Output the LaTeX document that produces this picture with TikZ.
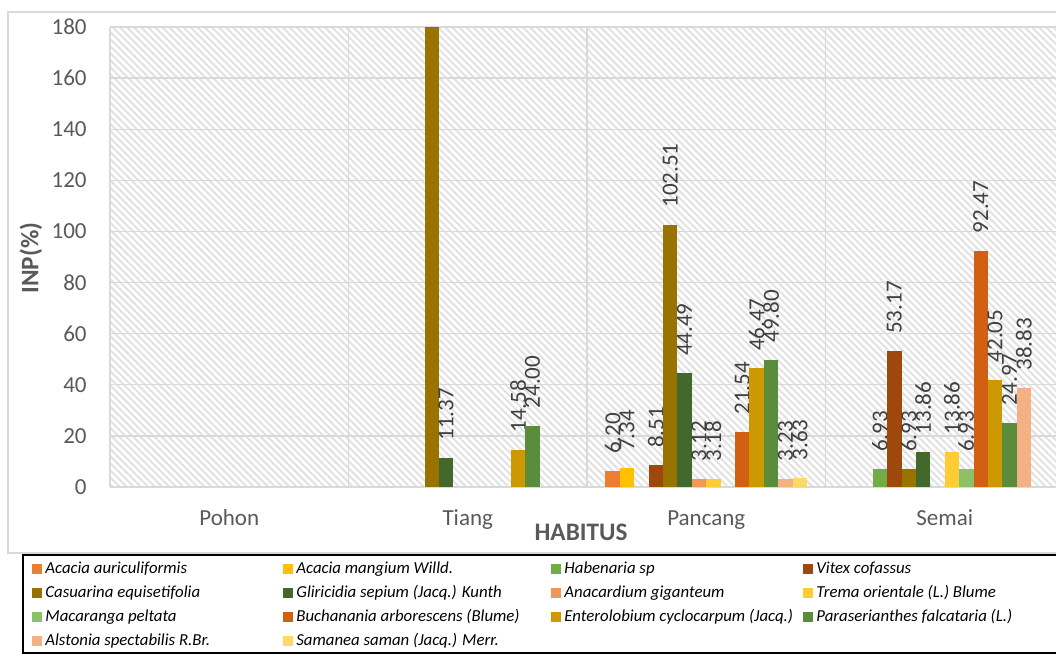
\documentclass[tikz,border=0pt]{standalone}
\usepackage{fontspec}
\setmainfont{Carlito}
\usetikzlibrary{patterns.meta}

\definecolor{gridgray}{HTML}{D9D9D9}
\definecolor{axistext}{HTML}{595959}
\definecolor{labeltext}{HTML}{404040}
\definecolor{s1}{HTML}{ED7D31}
\definecolor{s2}{HTML}{FFC000}
\definecolor{s3}{HTML}{70AD47}
\definecolor{s4}{HTML}{9E480E}
\definecolor{s5}{HTML}{997300}
\definecolor{s6}{HTML}{43682B}
\definecolor{s7}{HTML}{F1975A}
\definecolor{s8}{HTML}{FFCD33}
\definecolor{s9}{HTML}{8CC168}
\definecolor{s10}{HTML}{D26012}
\definecolor{s11}{HTML}{CC9A00}
\definecolor{s12}{HTML}{5B8C3C}
\definecolor{s13}{HTML}{F4B183}
\definecolor{s14}{HTML}{FFD966}

\begin{document}
\begin{tikzpicture}[x=0.5pt, y=-0.5pt,
    gridline/.style={draw=gridgray, line width=0.7pt},
    ticklabel/.style={text=axistext, font=\fontsize{11.5}{13}\selectfont, anchor=east, inner sep=0pt},
    catlabel/.style={text=axistext, font=\fontsize{11.5}{13}\selectfont, anchor=base, inner sep=0pt},
    axistitle/.style={text=axistext, font=\bfseries\fontsize{12.6}{14}\selectfont, inner sep=0pt},
    vallabel/.style={text=labeltext, font=\fontsize{11.5}{13}\selectfont, rotate=90, anchor=west, inner sep=0pt},
    legtext/.style={font=\itshape\fontsize{8.4}{10}\selectfont, anchor=base west, inner sep=0pt},
    legkey/.style={minimum size=5pt, inner sep=0pt, anchor=south west}]

    \useasboundingbox (0,0) rectangle (1056,657);
    \begin{scope}
    \clip (0,0) rectangle (1056,657);

    % Define chart area
    \draw[gridline] (8,12) rectangle (1070,553);
    \fill[pattern={Lines[angle=-45, distance=2.5pt, line width=1pt]}, pattern color=gridgray!80]
        (110,27) rectangle (1064,487);

    % Define grid and ticks
    \foreach \t in {0,20,...,180} {
        \draw[gridline] (110,{487-\t/180*460}) -- (1064,{487-\t/180*460});
        \node[ticklabel] (tick\t) at (87,{487-\t/180*460}) {\t};
    }
    \foreach \i in {0,...,4}
        \draw[gridline] ({110+\i*238.5},27) -- ({110+\i*238.5},487);

    % Define categories
    \foreach \name [count=\i from 0] in {Pohon,Tiang,Pancang,Semai}
        \node[catlabel] (cat\i) at ({110+(\i+0.5)*238.5},526) {\name};
    \node[axistitle, anchor=base] (habitus) at (581,541) {HABITUS};
    \node[axistitle, rotate=90] (inp) at (31,258) {INP(\%)};

    % Define bars
    \fill[s5] ({110+238.5+18.4+4*14.4},27) rectangle ++(14.4,460);
    \foreach \c/\s/\v in {1/6/11.37, 1/11/14.58, 1/12/24.00,
        2/1/6.20, 2/2/7.34, 2/4/8.51, 2/5/102.51, 2/6/44.49, 2/7/3.12, 2/8/3.18,
        2/10/21.54, 2/11/46.47, 2/12/49.80, 2/13/3.23, 2/14/3.63,
        3/3/6.93, 3/4/53.17, 3/5/6.93, 3/6/13.86, 3/8/13.86, 3/9/6.93,
        3/10/92.47, 3/11/42.05, 3/12/24.97, 3/13/38.83} {
        \pgfmathsetmacro\bx{110+\c*238.5+18.4+(\s-1)*14.4}
        \pgfmathsetmacro\bh{\v/180*460}
        \pgfmathsetmacro\by{487-\bh}
        \fill[s\s] (\bx,\by) rectangle ++(14.4,\bh);
        \node[vallabel] (val\c-\s) at (\bx+7.2,\by-17) {\v};
    }
    \end{scope}

    % Define legend
    \draw[black, line width=1.2pt] (23,555) rectangle (1070,653);
    \foreach \s/\col/\row/\name in {1/0/0/Acacia auriculiformis, 2/1/0/Acacia mangium Willd.,
        3/2/0/Habenaria sp, 4/3/0/Vitex cofassus,
        5/0/1/Casuarina equisetifolia, 6/1/1/Gliricidia sepium (Jacq.) Kunth,
        7/2/1/Anacardium giganteum, 8/3/1/Trema orientale (L.) Blume,
        9/0/2/Macaranga peltata, 10/1/2/Buchanania arborescens (Blume),
        11/2/2/Enterolobium cyclocarpum (Jacq.), 12/3/2/Paraserianthes falcataria (L.),
        13/0/3/Alstonia spectabilis R.Br., 14/1/3/Samanea saman (Jacq.) Merr.} {
        \pgfmathsetmacro\lx{{32,283,551,803}[\col]}
        \pgfmathsetmacro\ly{574+\row*24}
        \node[legkey, fill=s\s] (key\s) at (\lx,\ly) {};
        \node[legtext] (leg\s) at (\lx+13,\ly) {\name};
    }
\end{tikzpicture}
\end{document}
